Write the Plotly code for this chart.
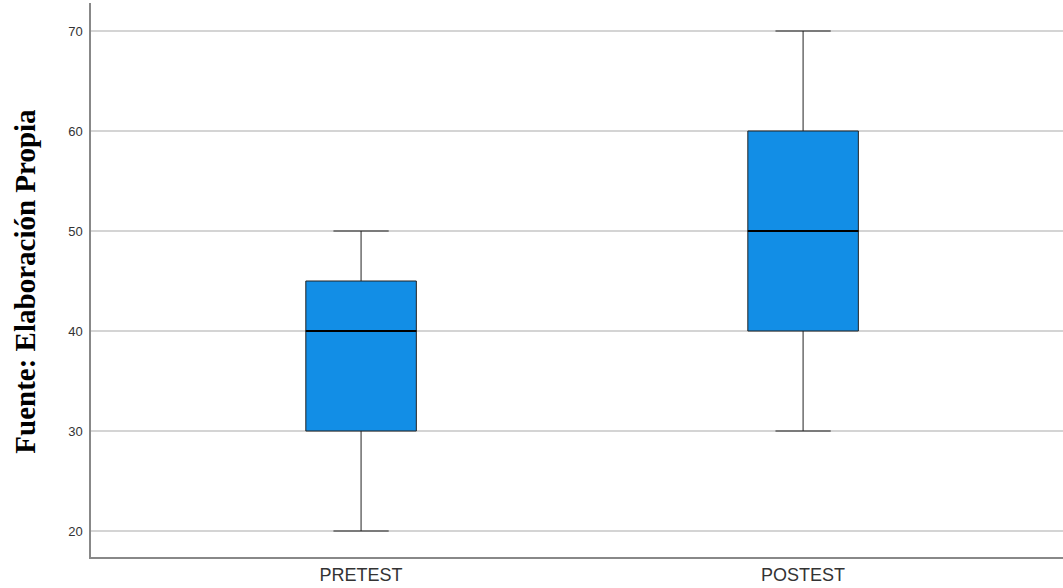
import plotly.graph_objects as go

# Five-number summaries for each test
groups = ["PRETEST", "POSTEST"]
minimum = [20, 30]
q1 = [30, 40]
median = [40, 50]
q3 = [45, 60]
maximum = [50, 70]

positions = list(range(len(groups)))
box_width = 0.25
fill_color = "#128EE6"

fig = go.Figure()

fig.add_trace(go.Box(
    x=positions,
    q1=q1,
    median=median,
    q3=q3,
    lowerfence=minimum,
    upperfence=maximum,
    width=box_width,
    whiskerwidth=0.5,
    fillcolor=fill_color,
    line=dict(color="#222222", width=1),
    boxpoints=False,
    hoverinfo="skip",
    showlegend=False,
))

# Heavier median lines across each box
for pos, med in zip(positions, median):
    fig.add_trace(go.Scatter(
        x=[pos - box_width / 2, pos + box_width / 2],
        y=[med, med],
        mode="lines",
        line=dict(color="#000000", width=2),
        hoverinfo="skip",
        showlegend=False,
    ))

fig.add_annotation(
    text="<b>Fuente: Elaboración Propia</b>",
    xref="paper", yref="paper",
    x=-66 / 972, y=0.497,
    xanchor="center", yanchor="middle",
    textangle=-90,
    showarrow=False,
    font=dict(family="Liberation Serif", size=29, color="#000000"),
)

fig.update_layout(
    width=1063, height=588,
    margin=dict(l=91, r=0, t=3, b=31),
    plot_bgcolor="white",
    paper_bgcolor="white",
    xaxis=dict(
        range=[-0.611, 1.588],
        tickvals=positions,
        ticktext=groups,
        showgrid=False,
        zeroline=False,
        showline=True,
        linecolor="#888888",
        linewidth=1.5,
        ticks="",
        ticklabelstandoff=1,
        automargin=False,
        tickfont=dict(family="Liberation Sans", size=18, color="#333333"),
    ),
    yaxis=dict(
        range=[17.4, 72.8],
        tickvals=[20, 30, 40, 50, 60, 70],
        showgrid=True,
        gridcolor="#d4d4d4",
        gridwidth=2,
        zeroline=False,
        showline=True,
        linecolor="#888888",
        linewidth=1.5,
        ticks="",
        ticklabelstandoff=4,
        automargin=False,
        tickfont=dict(family="Liberation Sans", size=13, color="#333333"),
    ),
)

fig.write_html("out.html")
